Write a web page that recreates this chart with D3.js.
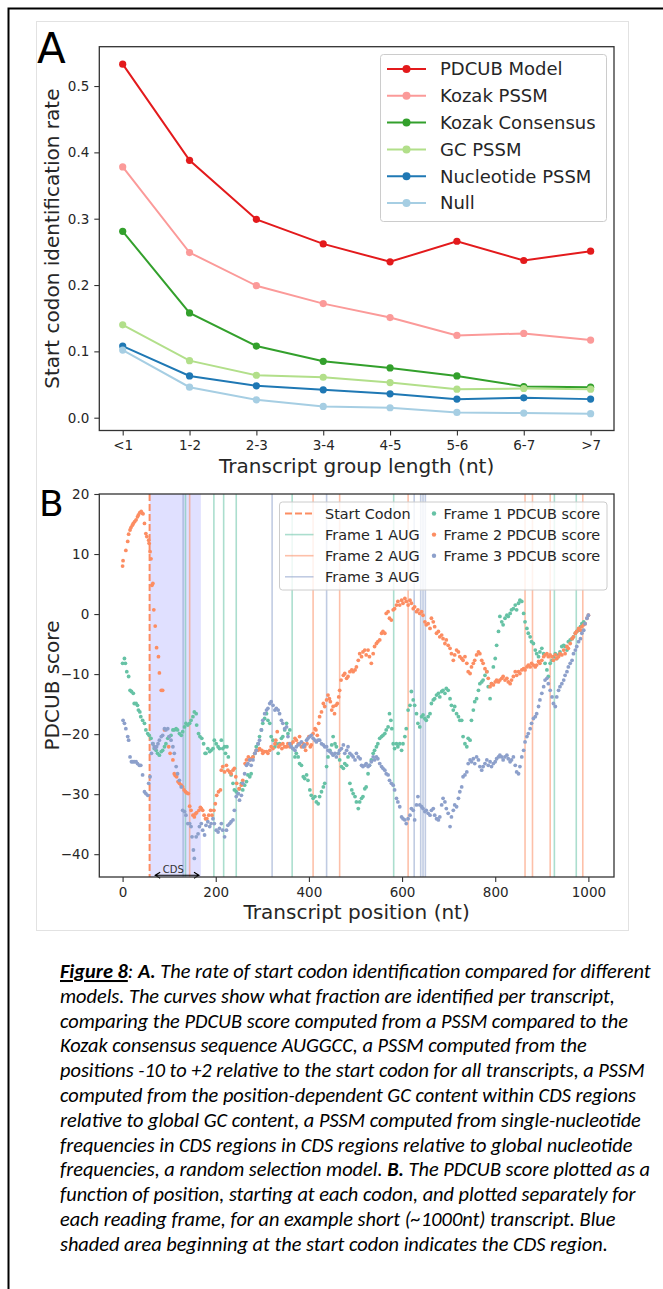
<!DOCTYPE html>
<html>
<head>
<meta charset="utf-8">
<script src="https://cdn.jsdelivr.net/npm/d3@7"></script>
<style>
  body { margin: 0; background: #fff; }
  svg text { font-family: "DejaVu Sans", sans-serif; }
</style>
</head>
<body>
<script>
// ---- panel A data ----
const lengthGroups = ["<1", "1-2", "2-3", "3-4", "4-5", "5-6", "6-7", ">7"]
const pdcubModel = [0.533, 0.388, 0.299, 0.262, 0.235, 0.266, 0.237, 0.251]
const kozakPSSM = [0.378, 0.249, 0.199, 0.172, 0.151, 0.124, 0.127, 0.117]
const kozakConsensus = [0.281, 0.158, 0.108, 0.085, 0.075, 0.063, 0.047, 0.046]
const gcPSSM = [0.140, 0.086, 0.064, 0.061, 0.053, 0.043, 0.044, 0.043]
const nucleotidePSSM = [0.108, 0.063, 0.048, 0.042, 0.036, 0.028, 0.030, 0.028]
const nullModel = [0.102, 0.046, 0.027, 0.017, 0.015, 0.008, 0.007, 0.006]
const modelNames = ["PDCUB Model", "Kozak PSSM", "Kozak Consensus", "GC PSSM", "Nucleotide PSSM", "Null"]
const modelColors = ["#e31a1c", "#fb9a99", "#33a02c", "#b2df8a", "#1f78b4", "#a6cee3"]

// ---- panel B data: [position (nt), PDCUB score] ----
const frame1Points = [[0,-8.2],[4,-7.4],[6,-8.2],[9,-9.6],[13,-10.4],[16,-12.7],[19,-12.9],[23,-13.2],[25,-14.9],[29,-14.9],[32,-15.2],[34,-16.0],[37,-16.3],[39,-17.1],[43,-17.7],[47,-18.2],[50,-19.3],[54,-19.9],[57,-20.2],[61,-20.7],[65,-21.6],[68,-22.4],[72,-22.7],[75,-23.2],[79,-23.5],[83,-22.9],[86,-22.7],[90,-22.1],[93,-21.6],[97,-20.7],[100,-20.4],[104,-20.2],[108,-19.3],[111,-19.3],[115,-19.1],[118,-19.3],[122,-19.9],[126,-20.2],[129,-19.6],[133,-18.8],[136,-18.2],[140,-18.5],[144,-18.2],[147,-17.7],[151,-17.1],[154,-16.3],[158,-16.6],[159,-18.5],[163,-19.9],[166,-20.4],[170,-20.7],[174,-21.6],[177,-23.2],[179,-23.2],[183,-22.4],[187,-22.9],[190,-22.7],[194,-22.4],[197,-21.0],[201,-21.6],[205,-22.1],[208,-22.4],[212,-21.0],[215,-22.4],[219,-22.1],[221,-23.2],[224,-22.1],[227,-23.8],[230,-26.3],[233,-26.8],[237,-28.2],[240,-29.3],[244,-29.6],[248,-29.9],[251,-29.1],[255,-28.2],[258,-29.3],[262,-28.5],[266,-27.9],[269,-26.8],[273,-27.1],[276,-26.6],[280,-23.8],[284,-23.2],[287,-22.1],[291,-21.6],[294,-20.4],[298,-19.3],[301,-18.2],[305,-17.4],[309,-16.6],[312,-17.7],[316,-18.2],[319,-20.4],[323,-21.0],[327,-22.1],[330,-21.6],[334,-23.2],[337,-21.6],[341,-20.7],[344,-20.4],[348,-19.3],[352,-18.2],[355,-19.9],[359,-19.3],[362,-21.6],[366,-22.4],[370,-23.8],[373,-23.2],[377,-23.8],[380,-24.9],[384,-25.2],[388,-27.1],[391,-27.4],[395,-26.8],[398,-27.7],[402,-29.3],[405,-30.2],[409,-30.7],[413,-30.4],[416,-31.3],[420,-31.6],[423,-30.4],[427,-29.6],[431,-28.8],[434,-28.2],[438,-25.4],[441,-23.8],[445,-22.7],[449,-21.8],[452,-20.4],[456,-21.6],[459,-22.1],[463,-23.2],[466,-24.3],[470,-25.4],[474,-25.7],[477,-24.9],[481,-25.2],[484,-23.8],[488,-28.2],[492,-29.3],[495,-29.9],[499,-30.4],[502,-31.3],[506,-32.4],[509,-31.3],[513,-30.7],[516,-30.4],[520,-29.1],[523,-28.8],[527,-26.6],[530,-25.2],[534,-24.3],[538,-23.2],[541,-22.7],[545,-22.1],[548,-21.6],[552,-20.7],[556,-20.4],[559,-20.2],[563,-19.9],[566,-19.3],[570,-18.8],[573,-16.6],[576,-17.7],[578,-19.1],[581,-21.6],[584,-22.4],[588,-21.6],[591,-22.1],[595,-21.6],[599,-22.7],[602,-21.6],[606,-20.4],[609,-19.1],[613,-16.0],[617,-15.2],[620,-12.9],[624,-14.3],[627,-15.2],[631,-16.6],[634,-18.2],[638,-18.8],[642,-17.1],[645,-16.8],[649,-17.4],[652,-17.7],[656,-17.1],[660,-16.6],[663,-14.9],[667,-14.3],[670,-14.1],[674,-13.5],[678,-13.2],[681,-13.8],[685,-12.9],[688,-12.7],[692,-13.2],[695,-12.4],[699,-12.7],[703,-14.1],[706,-15.2],[710,-16.0],[713,-15.4],[717,-16.6],[721,-17.1],[724,-17.7],[728,-17.7],[731,-20.4],[735,-21.6],[739,-22.1],[742,-20.7],[746,-21.0],[749,-17.7],[753,-16.0],[756,-14.6],[760,-14.1],[764,-12.7],[767,-11.6],[771,-11.3],[774,-11.0],[778,-10.2],[782,-9.6],[785,-12.1],[789,-14.1],[792,-11.6],[796,-8.8],[800,-7.4],[803,-5.2],[807,-2.9],[810,-0.4],[814,-1.3],[817,-1.8],[821,-0.7],[825,-0.2],[828,-0.4],[832,0.1],[835,0.7],[839,0.9],[843,1.5],[846,0.7],[850,1.8],[853,2.3],[857,2.1],[861,0.1],[864,-1.3],[868,-2.4],[871,-3.2],[875,-3.8],[878,-4.6],[882,-4.9],[886,-6.0],[889,-6.6],[893,-7.1],[896,-6.3],[900,-5.7],[904,-6.6],[907,-8.2],[911,-9.3],[914,-10.4],[918,-8.2],[922,-7.7],[925,-7.1],[929,-6.6],[932,-7.4],[936,-6.8],[939,-6.3],[943,-5.4],[947,-5.2],[950,-5.4],[954,-6.0],[957,-4.6],[961,-4.3],[965,-4.1],[968,-3.8],[972,-3.2],[975,-2.9],[979,-2.7],[983,-2.1],[986,-1.6],[990,-1.3]]
const frame2Points = [[0,8.0],[1,8.9],[7,10.6],[11,12.1],[13,13.3],[16,14.0],[18,14.4],[21,14.8],[23,15.1],[26,15.4],[29,15.7],[32,16.2],[34,16.5],[37,16.9],[40,17.1],[42,16.8],[44,16.7],[47,15.1],[50,13.4],[52,12.9],[56,12.3],[57,11.8],[59,10.4],[61,9.2],[63,4.8],[65,5.1],[67,0.7],[70,-2.0],[73,-5.6],[77,-7.1],[79,-9.8],[83,-12.7],[86,-12.7],[90,-19.3],[99,-22.1],[102,-23.2],[108,-24.3],[111,-26.6],[113,-26.9],[116,-27.1],[119,-27.9],[122,-28.2],[126,-28.5],[129,-28.8],[132,-29.3],[135,-29.6],[138,-29.8],[141,-29.9],[144,-32.0],[147,-32.7],[151,-33.5],[154,-33.8],[156,-33.3],[159,-33.1],[164,-32.7],[167,-32.2],[169,-32.4],[172,-32.7],[175,-33.5],[178,-34.1],[181,-34.1],[185,-33.5],[189,-32.7],[192,-33.5],[196,-32.7],[199,-31.6],[202,-30.2],[206,-29.6],[210,-29.3],[212,-26.0],[215,-25.4],[219,-26.3],[223,-25.2],[226,-26.0],[230,-26.3],[233,-26.6],[237,-26.0],[240,-25.7],[243,-27.1],[245,-28.2],[250,-29.1],[255,-28.5],[258,-27.7],[263,-24.9],[266,-24.3],[270,-23.8],[273,-24.3],[276,-24.1],[280,-23.8],[284,-23.2],[287,-22.7],[291,-22.7],[294,-22.4],[299,-22.7],[301,-23.2],[305,-22.9],[309,-22.9],[312,-23.2],[316,-22.7],[319,-22.1],[323,-22.4],[327,-21.6],[329,-21.0],[332,-19.6],[335,-22.1],[338,-21.8],[342,-22.4],[344,-21.6],[348,-22.1],[352,-22.1],[355,-21.6],[359,-22.1],[362,-21.6],[366,-21.3],[370,-20.7],[373,-21.0],[377,-21.6],[380,-20.4],[384,-22.1],[388,-21.6],[391,-22.1],[393,-22.7],[396,-21.6],[400,-20.4],[403,-22.1],[405,-21.8],[409,-19.9],[413,-19.1],[415,-19.3],[418,-20.2],[421,-18.2],[423,-17.1],[427,-16.3],[431,-14.9],[434,-15.4],[438,-14.3],[441,-13.5],[444,-14.1],[446,-14.6],[449,-16.0],[452,-15.4],[455,-16.6],[458,-15.2],[461,-14.9],[464,-13.8],[466,-12.7],[469,-11.0],[474,-10.2],[477,-9.9],[481,-10.7],[484,-10.4],[488,-9.6],[492,-9.3],[495,-9.6],[499,-9.3],[502,-8.8],[506,-7.7],[509,-6.6],[513,-7.1],[516,-6.3],[520,-6.0],[523,-6.8],[527,-6.0],[530,-7.1],[534,-8.2],[538,-6.6],[541,-5.4],[545,-4.9],[548,-4.6],[552,-4.3],[556,-3.2],[559,-2.9],[563,-3.2],[566,0.1],[570,0.4],[573,-0.7],[577,-1.0],[581,0.7],[584,0.9],[588,1.5],[591,2.1],[595,1.5],[599,2.3],[602,1.8],[606,2.6],[609,2.1],[613,1.5],[617,2.3],[620,1.8],[624,0.9],[627,1.2],[631,0.4],[634,0.7],[638,0.1],[642,0.4],[645,-0.2],[649,-1.3],[652,-1.8],[656,-1.6],[660,-2.4],[663,-0.7],[667,-1.3],[670,-2.1],[674,-3.2],[678,-2.9],[681,-3.8],[685,-3.5],[688,-4.1],[692,-4.9],[695,-4.3],[699,-5.2],[703,-5.7],[706,-6.6],[710,-7.7],[713,-6.8],[717,-6.0],[721,-6.3],[724,-7.1],[728,-7.4],[731,-7.7],[735,-7.1],[739,-8.2],[742,-9.6],[746,-9.9],[749,-8.8],[753,-8.2],[756,-7.7],[760,-6.8],[764,-6.3],[767,-6.6],[771,-7.7],[774,-8.2],[778,-9.1],[782,-9.6],[785,-10.7],[789,-12.1],[792,-11.6],[796,-11.8],[800,-11.3],[803,-11.0],[807,-11.3],[810,-11.0],[814,-10.7],[817,-10.4],[821,-11.0],[825,-10.7],[828,-11.3],[832,-11.6],[835,-11.0],[839,-10.4],[843,-9.6],[846,-10.2],[850,-9.6],[853,-9.9],[857,-9.3],[861,-9.1],[864,-9.3],[868,-8.8],[871,-8.5],[875,-8.8],[878,-8.2],[882,-8.5],[886,-8.8],[889,-8.5],[893,-7.9],[896,-8.2],[900,-7.7],[904,-7.1],[907,-6.8],[911,-6.6],[914,-7.1],[918,-6.8],[922,-7.1],[925,-7.7],[929,-6.8],[932,-7.4],[936,-7.1],[939,-6.6],[943,-6.8],[947,-6.0],[950,-6.6],[954,-5.4],[957,-5.7],[961,-4.9],[965,-4.1],[968,-3.8],[972,-3.2],[975,-2.9],[979,-2.4],[983,-2.7],[986,-2.1],[990,-1.8],[993,-1.6],[997,-0.7],[1000,-0.2]]
const frame3Points = [[1,-17.7],[4,-18.2],[7,-19.1],[11,-20.4],[13,-21.0],[16,-23.8],[19,-24.6],[22,-24.6],[25,-24.6],[29,-24.6],[32,-24.9],[36,-25.2],[39,-25.2],[43,-26.8],[47,-29.6],[50,-29.9],[54,-30.2],[56,-28.2],[59,-27.1],[62,-23.2],[65,-21.6],[68,-22.1],[70,-22.4],[73,-22.1],[76,-21.6],[79,-21.0],[83,-20.4],[86,-20.2],[90,-19.1],[93,-19.3],[97,-19.1],[100,-20.4],[104,-21.0],[108,-22.1],[111,-23.2],[115,-25.4],[118,-26.6],[122,-27.7],[126,-28.8],[129,-32.7],[133,-32.9],[136,-33.5],[140,-34.9],[144,-34.9],[147,-35.4],[149,-37.1],[152,-39.3],[154,-40.7],[158,-37.1],[162,-36.6],[165,-35.4],[169,-34.9],[172,-36.0],[176,-36.8],[179,-35.2],[183,-34.6],[187,-35.4],[190,-34.9],[194,-34.1],[197,-34.9],[201,-36.0],[205,-36.3],[208,-35.7],[212,-34.9],[215,-36.0],[219,-37.1],[223,-36.0],[226,-35.2],[230,-34.9],[233,-34.6],[237,-34.3],[240,-32.7],[244,-30.4],[248,-29.9],[251,-31.0],[255,-30.2],[258,-28.2],[262,-26.6],[266,-25.2],[269,-24.9],[273,-24.3],[276,-25.2],[280,-24.3],[284,-23.2],[287,-22.7],[291,-21.6],[294,-21.0],[298,-19.3],[301,-17.7],[305,-16.6],[309,-16.0],[312,-15.7],[316,-14.9],[319,-14.6],[323,-15.2],[327,-16.0],[330,-15.7],[334,-16.0],[337,-16.6],[341,-17.7],[344,-18.2],[348,-19.1],[352,-18.8],[355,-20.4],[359,-21.6],[362,-22.1],[366,-22.4],[370,-22.7],[373,-22.1],[377,-21.8],[380,-21.6],[384,-21.3],[388,-22.1],[391,-21.8],[395,-21.0],[398,-20.7],[402,-20.4],[405,-20.2],[409,-20.7],[413,-21.0],[416,-21.3],[420,-21.0],[423,-21.0],[427,-21.6],[431,-21.8],[434,-22.1],[438,-22.1],[441,-22.7],[445,-22.9],[449,-23.2],[452,-23.5],[456,-23.2],[459,-23.8],[463,-23.2],[466,-22.7],[470,-22.4],[474,-21.8],[477,-23.2],[481,-22.7],[484,-22.1],[488,-23.2],[492,-23.5],[495,-23.8],[499,-24.3],[502,-23.2],[506,-23.8],[510,-24.1],[513,-25.2],[516,-25.4],[520,-25.2],[523,-24.9],[527,-25.4],[530,-25.2],[534,-24.6],[538,-23.8],[541,-24.3],[545,-23.8],[548,-24.1],[552,-24.9],[556,-25.4],[559,-25.7],[563,-26.0],[566,-26.6],[570,-26.8],[573,-27.7],[577,-28.2],[581,-28.5],[584,-29.3],[588,-30.7],[591,-31.3],[595,-32.1],[599,-33.8],[602,-34.1],[606,-34.3],[609,-34.9],[613,-34.1],[617,-33.5],[620,-32.4],[624,-32.7],[627,-34.3],[631,-31.8],[634,-30.4],[638,-31.8],[642,-32.1],[645,-32.4],[649,-32.9],[652,-32.7],[656,-33.2],[660,-33.5],[663,-32.7],[667,-32.4],[670,-33.5],[674,-34.1],[678,-34.3],[681,-33.8],[685,-31.8],[688,-30.7],[692,-31.3],[695,-32.4],[699,-33.2],[703,-35.4],[706,-33.8],[710,-32.7],[713,-31.8],[717,-32.1],[721,-30.7],[724,-29.6],[728,-28.8],[731,-27.1],[735,-26.8],[739,-26.3],[742,-24.9],[746,-24.3],[749,-24.6],[753,-24.1],[756,-24.9],[760,-23.8],[764,-24.3],[767,-25.4],[771,-26.0],[774,-25.4],[778,-24.9],[782,-24.3],[785,-25.2],[789,-24.6],[792,-25.4],[796,-24.9],[800,-24.6],[803,-24.1],[807,-23.8],[810,-23.5],[814,-23.8],[817,-24.3],[821,-23.8],[825,-23.5],[828,-24.1],[832,-24.6],[835,-24.3],[839,-23.8],[843,-25.2],[846,-26.3],[850,-26.6],[853,-25.4],[857,-23.8],[861,-22.7],[864,-21.3],[868,-20.4],[871,-19.9],[875,-19.1],[878,-18.2],[882,-17.4],[886,-17.1],[889,-16.6],[893,-15.4],[896,-14.3],[900,-13.2],[904,-12.1],[907,-11.0],[911,-10.7],[914,-11.6],[918,-12.7],[922,-13.8],[925,-14.9],[929,-15.4],[932,-13.8],[936,-12.7],[939,-12.1],[943,-11.6],[947,-11.0],[950,-10.2],[954,-9.6],[957,-8.8],[961,-8.2],[965,-7.7],[968,-6.6],[972,-6.0],[975,-5.4],[979,-4.6],[983,-4.1],[986,-3.2],[990,-2.7],[993,-1.6],[997,-0.7],[1000,-0.2]]
const frame1AUG = [135, 196, 217, 244, 364, 582, 927, 974]
const frame2AUG = [144, 409, 466, 613, 864, 880, 918, 988]
const frame3AUG = [130, 321, 438, 626, 640, 645, 650]
const startCodon = 58
const cdsEnd = 168
const cdsArrow = [70, 164]
const frameColors = ["#66c2a5", "#fc8d62", "#8da0cb"]

// ---- caption ----
const captionLines = [
  [["Figure 8", "bu"], [": ", ""], ["A.", "b"], [" The rate of start codon identification compared for different", ""]],
  [["models. The curves show what fraction are identified per transcript,", ""]],
  [["comparing the PDCUB score computed from a PSSM compared to the", ""]],
  [["Kozak consensus sequence AUGGCC, a PSSM computed from the", ""]],
  [["positions -10 to +2 relative to the start codon for all transcripts, a PSSM", ""]],
  [["computed from the position-dependent GC content within CDS regions", ""]],
  [["relative to global GC content, a PSSM computed from single-nucleotide", ""]],
  [["frequencies in CDS regions in CDS regions relative to global nucleotide", ""]],
  [["frequencies, a random selection model. ", ""], ["B.", "b"], [" The PDCUB score plotted as a", ""]],
  [["function of position, starting at each codon, and plotted separately for", ""]],
  [["each reading frame, for an example short (~1000nt) transcript. Blue", ""]],
  [["shaded area beginning at the start codon indicates the CDS region.", ""]]
]

const W = 663, H = 1289
const ink = "#262626"
const svg = d3.select("body").append("svg").attr("width", W).attr("height", H)

// page frame
svg.append("path").attr("d", `M8.5,${H} V8.5 H${W}`).attr("fill", "none").attr("stroke", "#000").attr("stroke-width", 2)
svg.append("rect").attr("x", 36.5).attr("y", 21.5).attr("width", 592).attr("height", 909)
  .attr("fill", "none").attr("stroke", "#e2e2e2")

function styleAxis(g) {
  g.attr("font-family", null)
  g.select(".domain").remove()
  g.selectAll(".tick line").attr("stroke", "#333").attr("stroke-width", 1.1)
  g.selectAll(".tick text").attr("fill", ink).style("font-size", "13.5px")
}

// ================= panel A =================
const a = { left: 99.3, right: 614, top: 46.7, bottom: 430.5 }
const xA = d3.scaleLinear().domain([-0.35, lengthGroups.length - 1 + 0.35]).range([a.left, a.right])
const yA = d3.scaleLinear().domain([-0.0193, 0.5593]).range([a.bottom, a.top])
const seriesA = [pdcubModel, kozakPSSM, kozakConsensus, gcPSSM, nucleotidePSSM, nullModel]
  .map((values, k) => ({ name: modelNames[k], color: modelColors[k], values }))

svg.append("g").attr("transform", `translate(0,${a.bottom})`)
  .call(d3.axisBottom(xA).tickValues(d3.range(lengthGroups.length)).tickFormat(i => lengthGroups[i]).tickSize(5).tickPadding(5))
  .call(styleAxis)
svg.append("g").attr("transform", `translate(${a.left},0)`)
  .call(d3.axisLeft(yA).tickValues([0, 0.1, 0.2, 0.3, 0.4, 0.5]).tickFormat(d3.format(".1f")).tickSize(5).tickPadding(5))
  .call(styleAxis)

const lineA = d3.line().x((d, i) => xA(i)).y(d => yA(d))
const gA = svg.append("g")
seriesA.forEach(s => {
  gA.append("path").attr("d", lineA(s.values)).attr("fill", "none").attr("stroke", s.color).attr("stroke-width", 2)
  gA.selectAll(null).data(s.values).join("circle")
    .attr("cx", (d, i) => xA(i)).attr("cy", d => yA(d)).attr("r", 3.6).attr("fill", s.color)
})
svg.append("rect").attr("x", a.left).attr("y", a.top).attr("width", a.right - a.left).attr("height", a.bottom - a.top)
  .attr("fill", "none").attr("stroke", "#333").attr("stroke-width", 1.3)

// legend A
const legA = svg.append("g")
legA.append("rect").attr("x", 380.5).attr("y", 54.5).attr("width", 226).attr("height", 167).attr("rx", 3)
  .attr("fill", "#fff").attr("fill-opacity", 0.8).attr("stroke", "#cccccc")
seriesA.forEach((s, k) => {
  const y = 69 + k * 26.8
  legA.append("line").attr("x1", 387).attr("x2", 426).attr("y1", y).attr("y2", y).attr("stroke", s.color).attr("stroke-width", 2)
  legA.append("circle").attr("cx", 406.5).attr("cy", y).attr("r", 4).attr("fill", s.color)
  legA.append("text").attr("x", 440).attr("y", y).attr("dy", "0.36em").style("font-size", "18px").attr("fill", ink).text(s.name)
})

svg.append("text").attr("transform", `translate(52,${(a.top + a.bottom) / 2}) rotate(-90)`).attr("text-anchor", "middle")
  .attr("dy", "0.36em").style("font-size", "20px").attr("fill", ink).text("Start codon identification rate")
svg.append("text").attr("x", (a.left + a.right) / 2).attr("y", 473).attr("text-anchor", "middle")
  .style("font-size", "20px").attr("fill", ink).text("Transcript group length (nt)")
svg.append("text").attr("x", 37).attr("y", 63).style("font-size", "42px").attr("fill", "#000").text("A")

// ================= panel B =================
const b = { left: 99.3, right: 614, top: 494, bottom: 877 }
const xB = d3.scaleLinear().domain([-50, 1055]).range([b.left, b.right])
const yB = d3.scaleLinear().domain([-43.8, 20]).range([b.bottom, b.top])

svg.append("g").attr("transform", `translate(0,${b.bottom})`)
  .call(d3.axisBottom(xB).tickValues([0, 200, 400, 600, 800, 1000]).tickFormat(d3.format("d")).tickSize(5).tickPadding(5))
  .call(styleAxis)
svg.append("g").attr("transform", `translate(${b.left},0)`)
  .call(d3.axisLeft(yB).tickValues([-40, -30, -20, -10, 0, 10, 20]).tickSize(5).tickPadding(5))
  .call(styleAxis)

const gB = svg.append("g")
gB.append("rect").attr("x", xB(startCodon)).attr("y", b.top).attr("width", xB(cdsEnd) - xB(startCodon))
  .attr("height", b.bottom - b.top).attr("fill", "#0000ff").attr("fill-opacity", 0.12)

;[frame1AUG, frame2AUG, frame3AUG].forEach((list, k) => {
  gB.selectAll(null).data(list).join("line")
    .attr("x1", d => xB(d)).attr("x2", d => xB(d)).attr("y1", b.top).attr("y2", b.bottom)
    .attr("stroke", frameColors[k]).attr("stroke-opacity", 0.55).attr("stroke-width", 1.6)
})
gB.append("line").attr("x1", xB(startCodon)).attr("x2", xB(startCodon)).attr("y1", b.top).attr("y2", b.bottom)
  .attr("stroke", frameColors[1]).attr("stroke-width", 2).attr("stroke-dasharray", "7,3")

;[frame1Points, frame2Points, frame3Points].forEach((pts, k) => {
  gB.selectAll(null).data(pts).join("circle")
    .attr("cx", d => xB(d[0])).attr("cy", d => yB(d[1])).attr("r", 1.9).attr("fill", frameColors[k])
})

// CDS arrow
const ay = yB(-43.5)
const ax0 = xB(cdsArrow[0]), ax1 = xB(cdsArrow[1])
gB.append("path")
  .attr("d", `M${ax0},${ay} H${ax1} M${ax0 + 5},${ay - 3} L${ax0},${ay} L${ax0 + 5},${ay + 3} M${ax1 - 5},${ay - 3} L${ax1},${ay} L${ax1 - 5},${ay + 3}`)
  .attr("fill", "none").attr("stroke", "#000").attr("stroke-width", 1.1)
gB.append("text").attr("x", xB(109)).attr("y", 873).attr("text-anchor", "middle").style("font-size", "10px").attr("fill", "#333").text("CDS")

svg.append("rect").attr("x", b.left).attr("y", b.top).attr("width", b.right - b.left).attr("height", b.bottom - b.top)
  .attr("fill", "none").attr("stroke", "#333").attr("stroke-width", 1.3)

// legend B
const legB = svg.append("g")
legB.append("rect").attr("x", 279.5).attr("y", 502).attr("width", 327.5).attr("height", 88).attr("rx", 3)
  .attr("fill", "#fff").attr("fill-opacity", 0.8).attr("stroke", "#cccccc")
const lineItems = [
  { label: "Start Codon", color: frameColors[1], dash: "7,3", width: 2, opacity: 1 },
  { label: "Frame 1 AUG", color: frameColors[0], dash: null, width: 1.6, opacity: 0.55 },
  { label: "Frame 2 AUG", color: frameColors[1], dash: null, width: 1.6, opacity: 0.55 },
  { label: "Frame 3 AUG", color: frameColors[2], dash: null, width: 1.6, opacity: 0.55 }
]
lineItems.forEach((it, k) => {
  const y = 513.5 + k * 21.1
  legB.append("line").attr("x1", 285).attr("x2", 313.5).attr("y1", y).attr("y2", y)
    .attr("stroke", it.color).attr("stroke-width", it.width).attr("stroke-opacity", it.opacity).attr("stroke-dasharray", it.dash)
  legB.append("text").attr("x", 325).attr("y", y).attr("dy", "0.36em").style("font-size", "14.4px").attr("fill", ink).text(it.label)
})
frameColors.forEach((c, k) => {
  const y = 513.5 + k * 21.1
  legB.append("circle").attr("cx", 434).attr("cy", y).attr("r", 2.2).attr("fill", c)
  legB.append("text").attr("x", 443.5).attr("y", y).attr("dy", "0.36em").style("font-size", "14.4px").attr("fill", ink)
    .text(`Frame ${k + 1} PDCUB score`)
})

svg.append("text").attr("transform", `translate(52,${(b.top + b.bottom) / 2}) rotate(-90)`).attr("text-anchor", "middle")
  .attr("dy", "0.36em").style("font-size", "20px").attr("fill", ink).text("PDCUB score")
svg.append("text").attr("x", (b.left + b.right) / 2).attr("y", 919).attr("text-anchor", "middle")
  .style("font-size", "20px").attr("fill", ink).text("Transcript position (nt)")
svg.append("text").attr("x", 39).attr("y", 516).style("font-size", "36px").attr("fill", "#000").text("B")

// ================= caption =================
const cap = svg.append("g").style("font-style", "italic")
const capFont = "Carlito, Calibri, Lato, sans-serif"
const capTexts = captionLines.map((parts, i) => {
  const t = cap.append("text").attr("x", 60).attr("y", 978 + i * 24.8)
    .style("font-family", capFont).style("font-size", "20px").attr("fill", "#000")
  parts.forEach(([str, st]) => {
    const sp = t.append("tspan").text(str)
    if (st.includes("b")) sp.style("font-weight", "bold")
    if (st.includes("u")) sp.style("text-decoration", "underline")
  })
  return t
})
const w0 = capTexts[0].node().getComputedTextLength()
const capSize = 20 * 591 / w0
capTexts.forEach(t => t.style("font-size", capSize + "px"))
</script>
</body>
</html>
